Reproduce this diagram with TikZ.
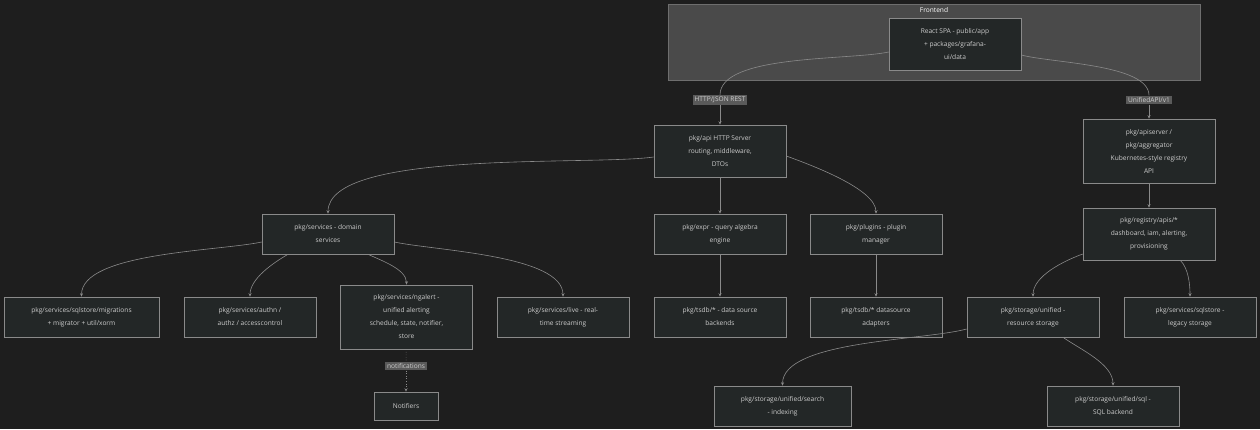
\documentclass[tikz,border=0pt]{standalone}
\usepackage{fontspec}
\setmainfont{Open Sans}
\usetikzlibrary{arrows.meta,positioning}
\definecolor{bgcol}{HTML}{1E1E1E}
\definecolor{boxfill}{HTML}{232727}
\definecolor{boxline}{HTML}{8A8A8A}
\definecolor{txtcol}{HTML}{CCCCCC}
\definecolor{clusterfill}{HTML}{4A4A4A}
\definecolor{lblfill}{HTML}{5A5A5A}

\tikzset{
  box/.style={draw=boxline, fill=boxfill, text=txtcol, minimum width=132pt, minimum height=40pt,
    align=center, font=\fontsize{6.6}{13}\selectfont, inner sep=2pt, line width=0.6pt},
  tall/.style={box, minimum height=52pt},
  taller/.style={box, minimum height=64pt},
  elabel/.style={fill=lblfill, text=txtcol, font=\fontsize{6.6}{8}\selectfont, inner sep=1.8pt},
  link/.style={draw=boxline, line width=0.6pt, -{Stealth[length=3.5pt,width=3pt]}},
  plain/.style={draw=boxline, line width=0.6pt},
}

\begin{document}
\begin{tikzpicture}[x=1pt, y=-1pt]
    \fill [bgcol] (0,0) rectangle (1260,429);
    \useasboundingbox (0,0) rectangle (1260,429);

    % Frontend cluster
    \draw [fill=clusterfill, draw=clusterfill!80!white] (668,4) rectangle (1200,80);
    \node [text=white, font=\fontsize{6.6}{8}\selectfont] (fe) at (934,10) {Frontend};

    % Nodes
    \node [tall]   (react)    at (955,44)   {React SPA - public/app\\+ packages/grafana-\\ui/data};
    \node [tall]   (api)      at (720,151)  {pkg/api HTTP Server\\routing, middleware,\\DTOs};
    \node [taller] (apisrv)   at (1149,151) {pkg/apiserver /\\pkg/aggregator\\Kubernetes-style registry\\API};
    \node [box]    (svc)      at (328,234)  {pkg/services - domain\\services};
    \node [box]    (expr)     at (720,234)  {pkg/expr - query algebra\\engine};
    \node [box]    (plugins)  at (876,234)  {pkg/plugins - plugin\\manager};
    \node [tall]   (registry) at (1149,234) {pkg/registry/apis/*\\dashboard, iam, alerting,\\provisioning};
    \node [box, minimum width=155pt] (migr) at (81.5,317) {pkg/services/sqlstore/migrations\\+ migrator + util/xorm};
    \node [box]    (authn)    at (250,317)  {pkg/services/authn /\\authz / accesscontrol};
    \node [taller] (ngalert)  at (406.5,317) {pkg/services/ngalert -\\unified alerting\\schedule, state, notifier,\\store};
    \node [box]    (live)     at (563,317)  {pkg/services/live - real-\\time streaming};
    \node [box]    (tsdb)     at (720,317)  {pkg/tsdb/* - data source\\backends};
    \node [box]    (adapt)    at (876,317)  {pkg/tsdb/* datasource\\adapters};
    \node [box]    (storage)  at (1033,317) {pkg/storage/unified -\\resource storage};
    \node [box]    (legacy)   at (1190,317) {pkg/services/sqlstore -\\legacy storage};
    \node [box, minimum width=64pt, minimum height=28pt] (notif) at (406,406) {Notifiers};
    \node [box, minimum width=137pt] (search) at (782.5,406) {pkg/storage/unified/search\\- indexing};
    \node [box]    (sqlbe)    at (1113,406) {pkg/storage/unified/sql -\\SQL backend};

    % Edge labels
    \node [elabel] (rest)  at (720,100)  {HTTP/JSON REST};
    \node [elabel] (uapi)  at (1149,100) {UnifiedAPI/v1};
    \node [elabel] (nlbl)  at (406,366)  {notifications};

    % Paths
    \path [plain] ([yshift=-8pt]react.west) to [out=192, in=90, looseness=0.6] (rest.north);
    \path [link]  (rest) -- (api);
    \path [plain] ([yshift=-11pt]react.east) to [out=-15, in=90, looseness=0.6] (uapi.north);
    \path [link]  (uapi) -- (apisrv);
    \path [link]  ([yshift=-6pt]api.west) to [out=188, in=90, looseness=0.5] (svc.north);
    \path [link]  (api) -- (expr);
    \path [link]  ([yshift=-5pt]api.east) to [out=-20, in=90, looseness=0.6] (plugins.north);
    \path [link]  (apisrv) -- (registry);
    \path [link]  ([yshift=-8pt]svc.west) to [out=192, in=90, looseness=0.6] (migr.north);
    \path [link]  ([xshift=-40pt]svc.south) to [out=210, in=90, looseness=0.8] (authn.north);
    \path [link]  ([xshift=40pt]svc.south) to [out=-25, in=90, looseness=0.8] (ngalert.north);
    \path [link]  ([yshift=-8pt]svc.east) to [out=-12, in=90, looseness=0.6] (live.north);
    \path [link]  (expr) -- (tsdb);
    \path [link]  (plugins) -- (adapt);
    \path [link]  ([yshift=-20pt]registry.west) to [out=200, in=90, looseness=0.8] (storage.north);
    \path [link]  ([xshift=-35pt]registry.south east) to [out=-45, in=90, looseness=0.8] (legacy.north);
    \path [plain, dotted] (ngalert) -- (nlbl);
    \path [link, dotted]  (nlbl) -- (notif);
    \path [link]  ([yshift=-12pt]storage.west) to [out=195, in=90, looseness=0.6] (search.north);
    \path [link]  ([xshift=30pt]storage.south) to [out=-35, in=90, looseness=0.8] (sqlbe.north);
\end{tikzpicture}
\end{document}
